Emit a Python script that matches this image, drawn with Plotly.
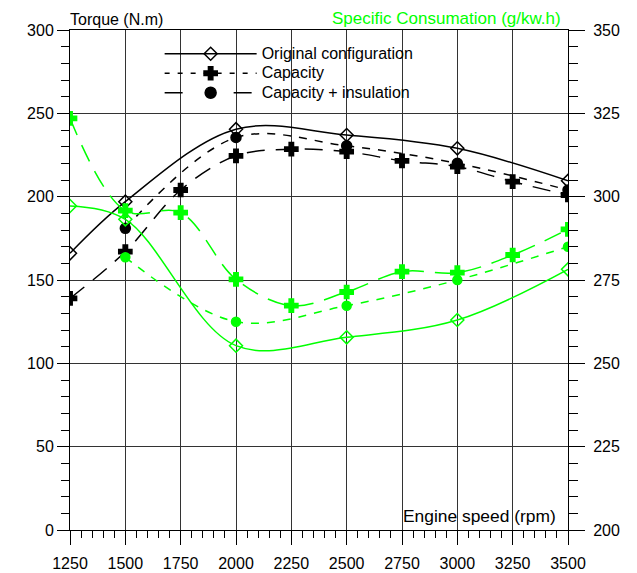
import plotly.graph_objects as go

# Engine speed grids (rpm)
rpm_capacity = [1250, 1500, 1750, 2000, 2250, 2500, 2750, 3000, 3250, 3500]
rpm_original = [1250, 1500, 2000, 2500, 3000, 3500]
rpm_insulation = [1500, 2000, 2500, 3000, 3500]

# Torque (N.m)
torque_original = [166, 197, 240.5, 237, 229, 209.5]
torque_capacity = [139, 167, 204, 224.5, 228.5, 227, 221.5, 218, 209, 201]
torque_insulation = [181, 235.5, 230.5, 220, 204]

# Specific consumption (g/kW.h)
bsfc_original = [297.2, 293.2, 255.3, 257.8, 263, 278.2]
bsfc_capacity = [323.5, 295.8, 295.2, 275.2, 267.3, 271.4, 277.5, 277.2, 282.5, 290.2]
bsfc_insulation = [281.8, 262.5, 267.3, 275, 285]

x_ticks = [1250, 1500, 1750, 2000, 2250, 2500, 2750, 3000, 3250, 3500]

BLACK = "black"
GREEN = "#00ff00"
FONT = "Liberation Sans, Arial, sans-serif"
LONG_DASH = "18px,11px"
SHORT_DASH = "8px,8px"

fig = go.Figure()


def series(x, y, color, dash, symbol, size, yaxis="y"):
    fig.add_trace(go.Scatter(
        x=x, y=y, yaxis=yaxis, showlegend=False,
        mode="lines+markers",
        line=dict(color=color, width=1.5, dash=dash, shape="spline", smoothing=1),
        marker=dict(symbol=symbol, size=size, color=color,
                    line=dict(color=color, width=1.5)),
        hoverinfo="x+y",
    ))


# Consumption curves (right axis)
series(rpm_original, bsfc_original, GREEN, "solid", "diamond-open", 10, "y2")
series(rpm_capacity, bsfc_capacity, GREEN, LONG_DASH, "cross", 11, "y2")
series(rpm_insulation, bsfc_insulation, GREEN, SHORT_DASH, "circle", 9, "y2")

# Torque curves (left axis)
series(rpm_capacity, torque_capacity, BLACK, LONG_DASH, "cross", 11)
series(rpm_insulation, torque_insulation, BLACK, SHORT_DASH, "circle", 10)
series(rpm_original, torque_original, BLACK, "solid", "diamond-open", 10)

# Legend entries (row height follows the legend font, label text is set larger)
legend_items = [
    ("Original configuration", "solid", "diamond-open", 10),
    ("Capacity", "5px,8px", "cross", 11),
    ("Capacity + insulation", "18px,51px,18px", "circle", 11),
]
for label, dash, symbol, size in legend_items:
    fig.add_trace(go.Scatter(
        x=[None], y=[None],
        name=f'<span style="font-size:16px">{label}</span>',
        showlegend=True,
        mode="lines+markers",
        line=dict(color=BLACK, width=1.5, dash=dash),
        marker=dict(symbol=symbol, size=size, color=BLACK,
                    line=dict(color=BLACK, width=1.5)),
    ))

axis_common = dict(
    showline=True, linecolor=BLACK, linewidth=1,
    ticks="outside", tickcolor=BLACK, tickwidth=1,
    tickfont=dict(family=FONT, size=16, color=BLACK),
    zeroline=False, automargin=False,
)

fig.update_layout(
    width=637, height=573,
    margin=dict(l=69.5, r=68.5, t=30, b=43, pad=0, autoexpand=False),
    paper_bgcolor="white", plot_bgcolor="white",
    font=dict(family=FONT, size=16, color=BLACK),
    xaxis=dict(
        range=[1250, 3500], tickvals=x_ticks, ticklen=14,
        ticklabelstandoff=5,
        mirror=True, showgrid=True, gridcolor="#333", gridwidth=1,
        minor=dict(ticks="outside", ticklen=7, dtick=50, tick0=1250,
                   tickcolor=BLACK, showgrid=False),
        **axis_common,
    ),
    yaxis=dict(
        range=[0, 300], dtick=50, tick0=0, ticklen=12,
        showgrid=True, gridcolor="#333", gridwidth=1,
        minor=dict(ticks="outside", ticklen=8, dtick=10, tick0=0,
                   tickcolor=BLACK, showgrid=False),
        **axis_common,
    ),
    yaxis2=dict(
        range=[200, 350], dtick=25, tick0=200, ticklen=16,
        ticklabelstandoff=5,
        overlaying="y", side="right", showgrid=False,
        minor=dict(ticks="outside", ticklen=9, dtick=5, tick0=200,
                   tickcolor=BLACK, showgrid=False),
        **axis_common,
    ),
    legend=dict(
        x=0.18, y=0.982, xanchor="left", yanchor="top",
        bgcolor="rgba(0,0,0,0)", borderwidth=0,
        itemwidth=92, tracegroupgap=0,
        font=dict(family=FONT, size=12.7, color=BLACK),
    ),
    annotations=[
        dict(text="Torque (N.m)", xref="paper", yref="paper", x=-0.004, y=1,
             xanchor="left", yanchor="bottom", showarrow=False,
             font=dict(family=FONT, size=16, color=BLACK)),
        dict(text="Specific Consumation (g/kw.h)", xref="paper", yref="paper",
             x=0.989, y=1, xanchor="right", yanchor="bottom", showarrow=False,
             font=dict(family=FONT, size=17, color=GREEN)),
        dict(text="Engine speed (rpm)", xref="paper", yref="paper",
             x=0.664, y=0.028, xanchor="left", yanchor="middle", showarrow=False,
             font=dict(family=FONT, size=17.4, color=BLACK)),
    ],
)

fig.write_html("out.html")
